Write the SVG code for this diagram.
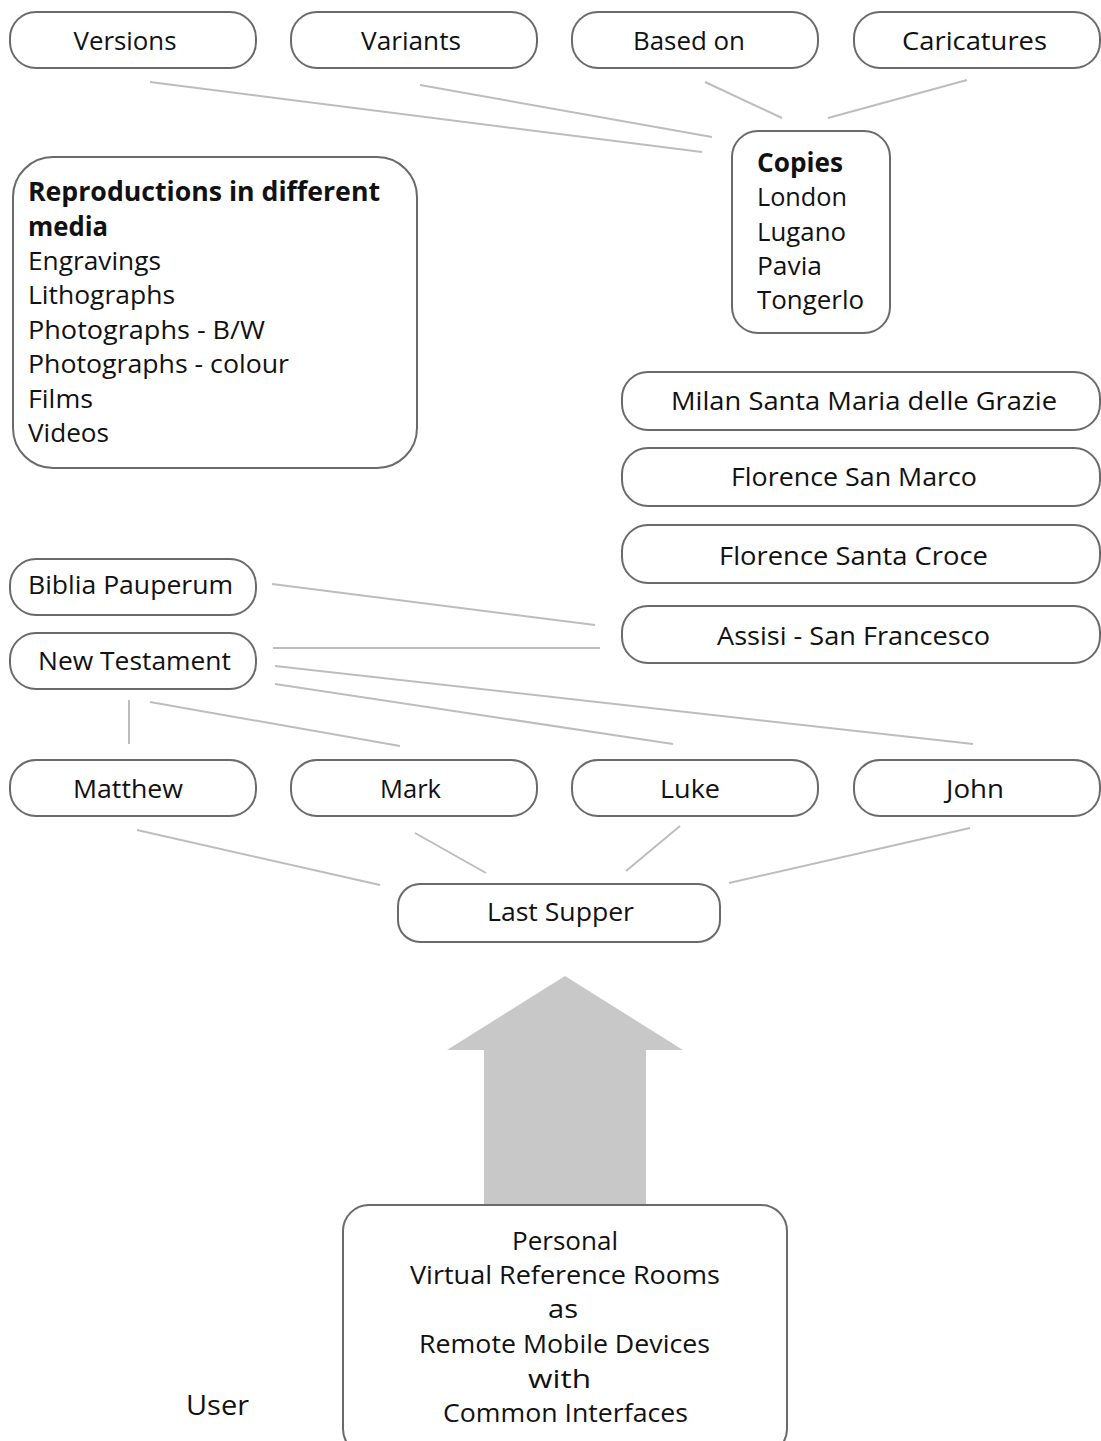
<svg xmlns="http://www.w3.org/2000/svg" width="1101" height="1441" viewBox="0 0 1101 1441">
<style>
.box{fill:#fff;stroke:#6a6a6a;stroke-width:2}
.t{font-family:"Open Sans","DejaVu Sans",sans-serif;font-size:26px;fill:#111}
.c{text-anchor:middle}
.b{font-weight:bold}
.con line{stroke:#bdbdbd;stroke-width:2}
</style>
<rect width="1101" height="1441" fill="#fff"/>
<g id="connectors" class="con">
<line x1="150" y1="82" x2="702" y2="152"/>
<line x1="420" y1="85" x2="712" y2="137"/>
<line x1="705" y1="82" x2="782" y2="118"/>
<line x1="967" y1="80" x2="828" y2="118"/>
<line x1="272" y1="584" x2="595" y2="625"/>
<line x1="273" y1="648" x2="600" y2="648"/>
<line x1="275" y1="666" x2="973" y2="744"/>
<line x1="275" y1="684" x2="673" y2="744"/>
<line x1="150" y1="702" x2="400" y2="746"/>
<line x1="129" y1="700" x2="129" y2="744"/>
<line x1="137" y1="830" x2="380" y2="885"/>
<line x1="415" y1="833" x2="486" y2="873"/>
<line x1="680" y1="826" x2="626" y2="871"/>
<line x1="970" y1="828" x2="729" y2="883"/>
</g>
<g id="n-versions"><rect class="box" x="10" y="12" width="246" height="56" rx="26"/><text class="t c" x="125" y="50" textLength="103" lengthAdjust="spacingAndGlyphs">Versions</text></g>
<g id="n-variants"><rect class="box" x="291" y="12" width="246" height="56" rx="26"/><text class="t c" x="411" y="50" textLength="100" lengthAdjust="spacingAndGlyphs">Variants</text></g>
<g id="n-basedon"><rect class="box" x="572" y="12" width="246" height="56" rx="26"/><text class="t c" x="689" y="50" textLength="112" lengthAdjust="spacingAndGlyphs">Based on</text></g>
<g id="n-caricatures"><rect class="box" x="854" y="12" width="246" height="56" rx="26"/><text class="t c" x="974.5" y="50" textLength="145" lengthAdjust="spacingAndGlyphs">Caricatures</text></g>
<g id="n-copies"><rect class="box" x="732" y="131" width="158" height="202" rx="26"/>
<text class="t b" x="757" y="172" textLength="86" lengthAdjust="spacingAndGlyphs">Copies</text>
<text class="t" x="757" y="206" textLength="90" lengthAdjust="spacingAndGlyphs">London</text>
<text class="t" x="757" y="241" textLength="89" lengthAdjust="spacingAndGlyphs">Lugano</text>
<text class="t" x="757" y="275" textLength="65" lengthAdjust="spacingAndGlyphs">Pavia</text>
<text class="t" x="757" y="309" textLength="107" lengthAdjust="spacingAndGlyphs">Tongerlo</text></g>
<g id="n-reproductions"><rect class="box" x="13" y="157" width="404" height="311" rx="40"/>
<text class="t b" x="28" y="201" textLength="352" lengthAdjust="spacingAndGlyphs">Reproductions in different</text>
<text class="t b" x="28" y="236" textLength="80" lengthAdjust="spacingAndGlyphs">media</text>
<text class="t" x="28" y="270" textLength="133" lengthAdjust="spacingAndGlyphs">Engravings</text>
<text class="t" x="28" y="304" textLength="147" lengthAdjust="spacingAndGlyphs">Lithographs</text>
<text class="t" x="28" y="339" textLength="237" lengthAdjust="spacingAndGlyphs">Photographs - B/W</text>
<text class="t" x="28" y="373" textLength="261" lengthAdjust="spacingAndGlyphs">Photographs - colour</text>
<text class="t" x="28" y="408" textLength="65" lengthAdjust="spacingAndGlyphs">Films</text>
<text class="t" x="28" y="442" textLength="81" lengthAdjust="spacingAndGlyphs">Videos</text></g>
<g id="n-milan"><rect class="box" x="622" y="372" width="478" height="58" rx="26"/><text class="t c" x="864" y="410" textLength="386" lengthAdjust="spacingAndGlyphs">Milan Santa Maria delle Grazie</text></g>
<g id="n-sanmarco"><rect class="box" x="622" y="448" width="478" height="58" rx="26"/><text class="t c" x="854" y="486" textLength="246" lengthAdjust="spacingAndGlyphs">Florence San Marco</text></g>
<g id="n-santacroce"><rect class="box" x="622" y="525" width="478" height="58" rx="26"/><text class="t c" x="853.5" y="565" textLength="269" lengthAdjust="spacingAndGlyphs">Florence Santa Croce</text></g>
<g id="n-assisi"><rect class="box" x="622" y="606" width="478" height="57" rx="26"/><text class="t c" x="853.5" y="645" textLength="273" lengthAdjust="spacingAndGlyphs">Assisi - San Francesco</text></g>
<g id="n-biblia"><rect class="box" x="10" y="559" width="246" height="56" rx="26"/><text class="t" x="28" y="594" textLength="205" lengthAdjust="spacingAndGlyphs">Biblia Pauperum</text></g>
<g id="n-newtestament"><rect class="box" x="10" y="633" width="246" height="56" rx="26"/><text class="t" x="38" y="670" textLength="193" lengthAdjust="spacingAndGlyphs">New Testament</text></g>
<g id="n-matthew"><rect class="box" x="10" y="760" width="246" height="56" rx="26"/><text class="t c" x="128" y="798" textLength="110" lengthAdjust="spacingAndGlyphs">Matthew</text></g>
<g id="n-mark"><rect class="box" x="291" y="760" width="246" height="56" rx="26"/><text class="t c" x="410.5" y="798" textLength="61" lengthAdjust="spacingAndGlyphs">Mark</text></g>
<g id="n-luke"><rect class="box" x="572" y="760" width="246" height="56" rx="26"/><text class="t c" x="690" y="798" textLength="60" lengthAdjust="spacingAndGlyphs">Luke</text></g>
<g id="n-john"><rect class="box" x="854" y="760" width="246" height="56" rx="26"/><text class="t c" x="975" y="798" textLength="58" lengthAdjust="spacingAndGlyphs">John</text></g>
<g id="n-lastsupper"><rect class="box" x="398" y="884" width="322" height="58" rx="22"/><text class="t c" x="560.5" y="921" textLength="147" lengthAdjust="spacingAndGlyphs">Last Supper</text></g>
<g id="n-arrow"><polygon points="565,976 683,1050 646,1050 646,1210 484,1210 484,1050 447,1050" fill="#c8c8c8"/></g>
<g id="n-personal"><rect class="box" x="343" y="1205" width="444" height="250" rx="26"/>
<text class="t c" x="565" y="1250" textLength="106" lengthAdjust="spacingAndGlyphs">Personal</text>
<text class="t c" x="565" y="1284" textLength="310" lengthAdjust="spacingAndGlyphs">Virtual Reference Rooms</text>
<text class="t c" x="563" y="1318" textLength="30" lengthAdjust="spacingAndGlyphs">as</text>
<text class="t c" x="564.5" y="1353" textLength="291" lengthAdjust="spacingAndGlyphs">Remote Mobile Devices</text>
<text class="t c" x="559.5" y="1388" textLength="63" lengthAdjust="spacingAndGlyphs">with</text>
<text class="t c" x="565.5" y="1422" textLength="245" lengthAdjust="spacingAndGlyphs">Common Interfaces</text></g>
<g id="n-user"><text class="t" x="186" y="1415" style="font-size:28px" textLength="63" lengthAdjust="spacingAndGlyphs">User</text></g>
</svg>
